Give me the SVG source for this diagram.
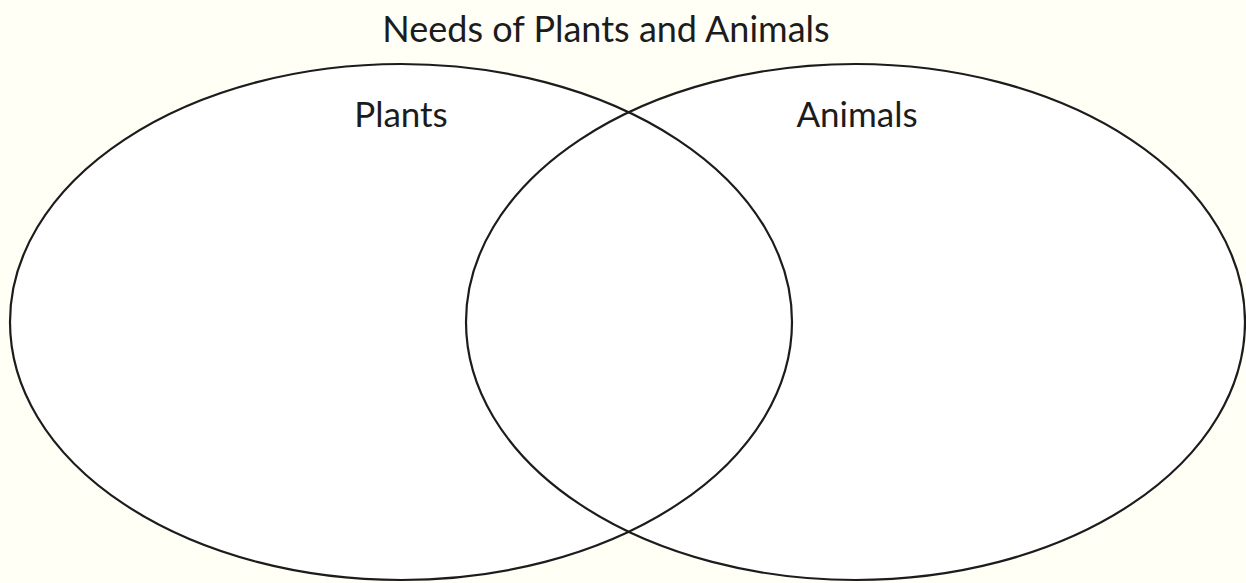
<svg xmlns="http://www.w3.org/2000/svg" width="1246" height="583" viewBox="0 0 1246 583">
<style>
.bg{fill:#fffff6}
.fillw{fill:#ffffff;stroke:none}
.ring{fill:none;stroke:#1c1c1c;stroke-width:2.2}
.t{font-family:"Lato","Noto Sans",sans-serif;fill:#1c1c1c;text-anchor:middle}
</style>
<rect class="bg" x="0" y="0" width="1246" height="583"/>
<g id="fills">
<ellipse class="fillw" cx="401" cy="322" rx="391" ry="258"/>
<ellipse class="fillw" cx="855.5" cy="322" rx="389.5" ry="258"/>
</g>
<g id="plants">
<ellipse class="ring" cx="401" cy="322" rx="391" ry="258"/>
<text class="t" x="401" y="127" font-size="35">Plants</text>
</g>
<g id="animals">
<ellipse class="ring" cx="855.5" cy="322" rx="389.5" ry="258"/>
<text class="t" x="857" y="127" font-size="35">Animals</text>
</g>
<g id="title">
<text class="t" x="606" y="42" font-size="36">Needs of Plants and Animals</text>
</g>
<g id="connectors"></g>
</svg>
